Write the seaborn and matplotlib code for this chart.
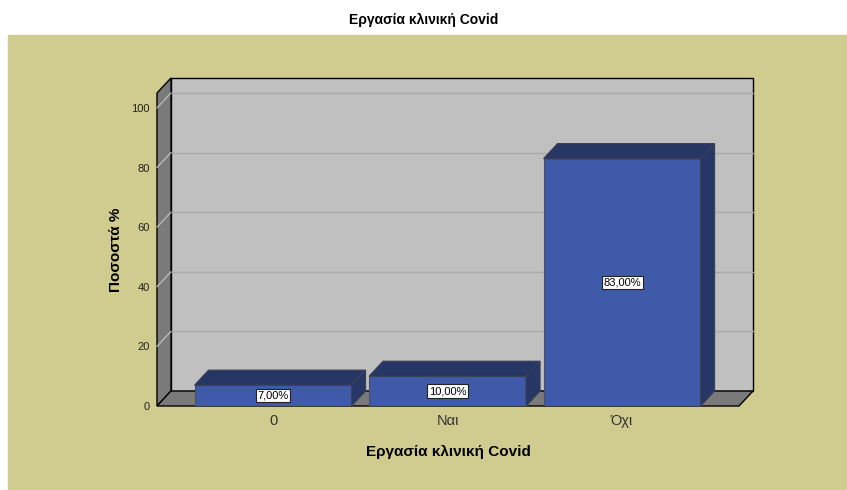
import matplotlib.pyplot as plt
import matplotlib.patches as mpatches
import pandas as pd
import seaborn as sns

# data
categories = ["0", "Ναι", "Όχι"]
percents = [7.0, 10.0, 83.0]
value_labels = ["7,00%", "10,00%", "83,00%"]
yticks = [0, 20, 40, 60, 80, 100]

df = pd.DataFrame({"cat": categories, "pct": percents})

sns.set_style("white")
plt.rcParams["font.family"] = ["Liberation Sans", "DejaVu Sans"]

fig = plt.figure(figsize=(8.47, 4.90), dpi=100)
# khaki chart background
fig.patches.append(mpatches.Rectangle((8 / 847, 0), 1, 1 - 35 / 490,
                                      transform=fig.transFigure, color="#d0cb8e", zorder=-10))

ax = fig.add_axes([157 / 847, (490 - 406) / 490, 582 / 847, 313 / 490])
ax.patch.set_visible(False)
xmin, xmax, ymax = -0.665, 2.67, 105
ax.set_xlim(xmin, xmax)
ax.set_ylim(0, ymax)
dx, dy = 0.0802, 5.03  # depth offset in data units

# walls and floor
ax.add_patch(mpatches.Rectangle((xmin + dx, dy), xmax - xmin, ymax, facecolor="#c0c0c0",
                                edgecolor="black", lw=1, clip_on=False, zorder=1))
ax.add_patch(mpatches.Polygon([(xmin, 0), (xmin + dx, dy), (xmin + dx, ymax + dy), (xmin, ymax)],
                              facecolor="#7a7a7a", edgecolor="black", lw=1, clip_on=False, zorder=2))
ax.add_patch(mpatches.Polygon([(xmin, 0), (xmax, 0), (xmax + dx, dy), (xmin + dx, dy)],
                              facecolor="#7a7a7a", edgecolor="black", lw=1, clip_on=False, zorder=2))
for t in yticks[1:]:
    ax.plot([xmin + dx, xmax + dx], [t + dy, t + dy], color="#a9a9a9", lw=1, clip_on=False, zorder=1.5)
    ax.plot([xmin, xmin + dx], [t, t + dy], color="#b8b8b8", lw=1, clip_on=False, zorder=2.5)

# front faces
sns.barplot(data=df, x="cat", y="pct", color="#3e5aa8", saturation=1, width=0.9,
            edgecolor="#4a4f66", linewidth=0.8, ax=ax, zorder=3)
ax.set_xlim(xmin, xmax)
ax.set_ylim(0, ymax)

# tops and sides
for bar in list(ax.patches):
    if not isinstance(bar, mpatches.Rectangle) or bar.get_zorder() != 3:
        continue
    x0, w, h = bar.get_x(), bar.get_width(), bar.get_height()
    x1 = x0 + w
    ax.add_patch(mpatches.Polygon([(x0, h), (x1, h), (x1 + dx, h + dy), (x0 + dx, h + dy)],
                                  facecolor="#263766", edgecolor="#3a3f55", lw=0.8, clip_on=False, zorder=3))
    ax.add_patch(mpatches.Polygon([(x1, 0), (x1 + dx, dy), (x1 + dx, h + dy), (x1, h)],
                                  facecolor="#263766", edgecolor="#3a3f55", lw=0.8, clip_on=False, zorder=3))

for i, (p, lab) in enumerate(zip(percents, value_labels)):
    ax.text(i, p / 2, lab, ha="center", va="center", fontsize=8, color="black", zorder=5,
            bbox=dict(boxstyle="square,pad=0.15", facecolor="white", edgecolor="#222222", lw=0.8))

for s in ax.spines.values():
    s.set_visible(False)
ax.set_yticks(yticks)
ax.set_yticklabels([str(t) for t in yticks], fontsize=8, color="#222222")
ax.tick_params(axis="y", length=0, pad=5)
ax.tick_params(axis="x", length=0, pad=6, labelsize=10.5, labelcolor="#333333")
ax.set_xlabel("Εργασία κλινική Covid", fontsize=11, fontweight="bold", color="black", labelpad=12)
ax.set_ylabel("Ποσοστά %", fontsize=11, fontweight="bold", color="black", labelpad=6)

fig.text(424 / 847, 1 - 20 / 490, "Εργασία κλινική Covid", ha="center", va="center",
         fontsize=10, fontweight="bold", color="black")

fig.savefig("out.png", dpi=100)
